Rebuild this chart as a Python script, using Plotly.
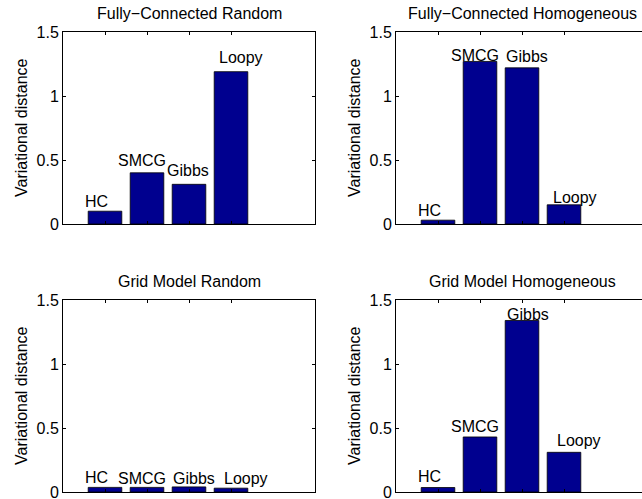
import plotly.graph_objects as go

# ---- data ----
methods = ["HC", "SMCG", "Gibbs", "Loopy"]
positions = [1, 2, 3, 4]
panel_titles = ["Fully\u2212Connected Random", "Fully\u2212Connected Homogeneous",
                "Grid Model Random", "Grid Model Homogeneous"]
fc_random = [0.10, 0.40, 0.31, 1.19]
fc_homogeneous = [0.03, 1.27, 1.22, 0.15]
grid_random = [0.036, 0.036, 0.040, 0.030]
grid_homogeneous = [0.035, 0.43, 1.34, 0.31]
y_tick_vals = [0, 0.5, 1, 1.5]
y_tick_text = ["0", "0.5", "1", "1.5"]
y_label = "Variational distance"

series = [fc_random, fc_homogeneous, grid_random, grid_homogeneous]

# ---- layout geometry (pixels) ----
W, H = 642, 499
ML, MR, MT, MB = 63, 0, 32, 7
PW, PH = W - ML - MR, H - MT - MB
PX_PER_UNIT = 42.0


def px_x(px):
    return (px - ML) / PW


def px_y(py):
    return 1 - (py - MT) / PH


boxes = [  # left, right, top, bottom in pixels
    (63, 315, 32, 224),
    (396, 648, 32, 224),
    (63, 315, 300, 492),
    (396, 648, 300, 492),
]
# label pixel offsets (relative to bar centre / bar top), per panel
label_dx = [[-21, -30, -23, -13], [-21, -30, -17, -12],
            [-21, -30, -17, -8], [-21, -30, -16, -8]]
label_dy = [[3, 6, 7, 8], [3.5, -1, 5, 1],
            [3.5, 2.7, 2.3, 3], [4.3, 3.7, -0.7, 5.7]]

FONT = "Liberation Sans, Arial, Helvetica, sans-serif"
FS = 16
BAR_COLOR = "#00008F"

fig = go.Figure()
layout = dict(
    width=W, height=H, margin=dict(l=ML, r=MR, t=MT, b=MB, autoexpand=False),
    plot_bgcolor="white", paper_bgcolor="white", showlegend=False,
    font=dict(family=FONT, size=FS, color="black"),
)
annotations = []

for i, vals in enumerate(series):
    n = "" if i == 0 else str(i + 1)
    l, r, t, b = boxes[i]
    r_vis = min(r, W)
    xd = [max(0, px_x(l)), min(1, px_x(r_vis))]
    yd = [max(0, px_y(b)), min(1, px_y(t))]
    xmax = (r_vis - l) / PX_PER_UNIT
    right_side = r > W
    fig.add_trace(go.Bar(
        x=positions, y=vals, width=0.8,
        marker=dict(color=BAR_COLOR, line=dict(color="black", width=0.8)),
        xaxis="x" + n, yaxis="y" + n, hoverinfo="skip",
    ))
    layout["xaxis" + n] = dict(
        domain=xd, range=[0, xmax], anchor="y" + n, automargin=False,
        tickvals=positions, ticktext=["", "", "", ""], ticks="inside", ticklen=3,
        tickcolor="black", showline=True, linecolor="black", linewidth=1,
        mirror="ticks", showgrid=False, zeroline=False, fixedrange=True,
    )
    layout["yaxis" + n] = dict(
        domain=yd, range=[0, 1.5], anchor="x" + n, automargin=False,
        tickvals=y_tick_vals, ticktext=y_tick_text, ticks="inside", ticklen=3,
        tickcolor="black", showline=True, linecolor="black", linewidth=1,
        mirror=False if right_side else "ticks", showgrid=False, zeroline=False,
        tickfont=dict(size=FS), fixedrange=True, ticklabeloverflow="allow",
    )
    # panel title
    cx = (l + r) / 2
    ty = 13.5 if t < 100 else 281
    annotations.append(dict(
        text=panel_titles[i], x=px_x(cx), y=px_y(ty), xref="paper", yref="paper",
        xanchor="center", yanchor="middle", showarrow=False, font=dict(size=FS),
    ))
    # y-axis label
    annotations.append(dict(
        text=y_label, x=px_x(l - 42), y=px_y((t + b) / 2),
        xref="paper", yref="paper", textangle=-90,
        xanchor="center", yanchor="middle", showarrow=False, font=dict(size=FS),
    ))
    # bar labels
    for j, (m, v) in enumerate(zip(methods, vals)):
        annotations.append(dict(
            text=m, x=positions[j], y=v, xref="x" + n, yref="y" + n,
            xanchor="left", yanchor="bottom", showarrow=False,
            xshift=label_dx[i][j], yshift=label_dy[i][j] - 3, borderpad=0,
            font=dict(size=FS),
        ))

layout["annotations"] = annotations
fig.update_layout(**layout)
fig.write_html(
    "out.html",
    config={"displayModeBar": False, "staticPlot": True},
    post_script="document.body.style.margin='0';document.body.style.overflow='hidden';",
)
